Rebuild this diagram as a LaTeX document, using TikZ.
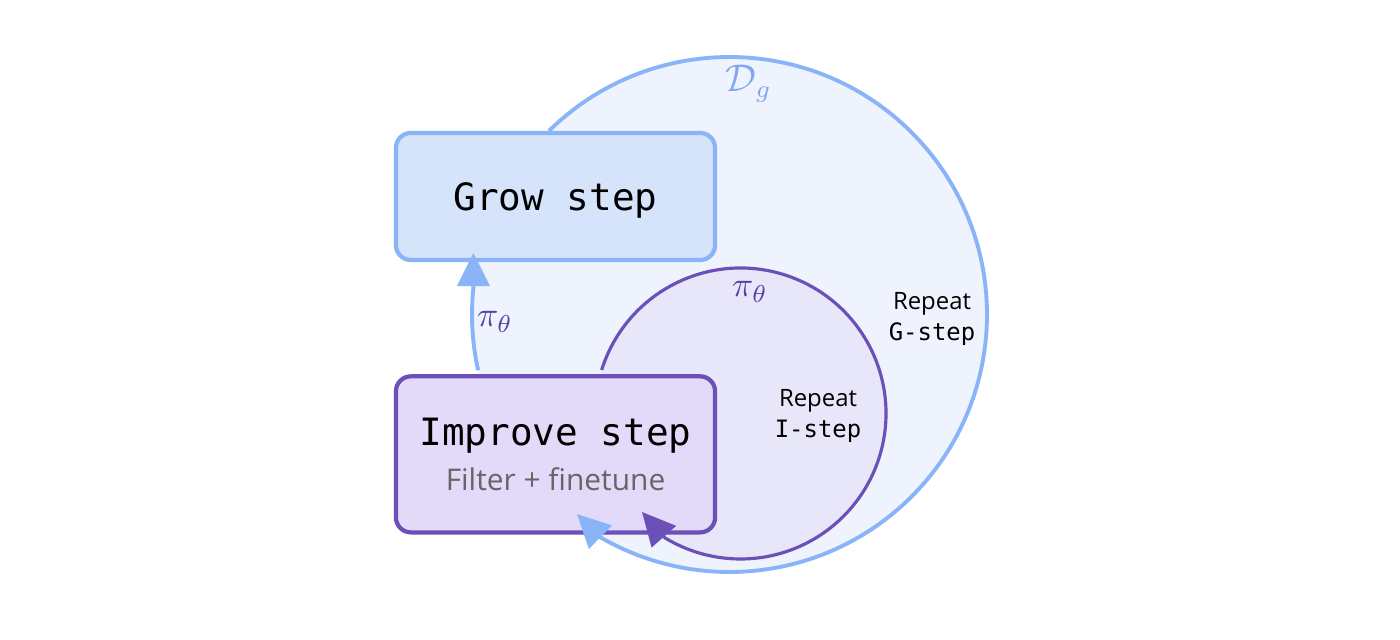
\documentclass[tikz,border=0pt]{standalone}
\usepackage{fontspec}
\usepackage{tikz}
\usetikzlibrary{positioning, arrows.meta, calc}

\definecolor{growline}{HTML}{8AB4F8}
\definecolor{growfill}{HTML}{D6E4FB}
\definecolor{outerfill}{HTML}{EEF3FD}
\definecolor{impline}{HTML}{6A50B7}
\definecolor{impfill}{HTML}{E3DAFA}
\definecolor{innerfill}{HTML}{E8E7F9}
\definecolor{pilabel}{HTML}{5B40AA}
\definecolor{dglabel}{HTML}{7FA7F0}
\definecolor{subgray}{HTML}{666666}

\newfontfamily\stepmono{DejaVu Sans Mono}
\newfontfamily\stepsans{Open Sans}

\begin{document}
\begin{tikzpicture}[
                x=0.01cm, y=-0.01cm,
                stepbox/.style={rectangle, rounded corners=0.15cm, line width=1.2pt, minimum width=3.19cm, font=\stepmono\fontsize{10.7}{12.8}\selectfont},
                growbox/.style={stepbox, draw=growline, fill=growfill, minimum height=1.27cm, text depth=0pt},
                impbox/.style={stepbox, draw=impline, fill=impfill, minimum height=1.56cm, align=center},
                loopedge/.style={line width=1.1pt, -{Triangle[length=0.33cm, width=0.32cm]}},
                repeatlabel/.style={align=center, font=\fontsize{6.8}{9}\selectfont},
                pilab/.style={text=pilabel, font=\fontsize{10}{12}\selectfont}
            ]
            \useasboundingbox (0,0) rectangle (1400,640);

            % Loops (background)
            \coordinate (oc) at (729.5,314.5);
            \coordinate (ic) at (740.5,413.5);
            \fill[outerfill] (oc) circle[radius=257.5];
            \fill[innerfill] (ic) circle[radius=145.5];

            % Nodes
            \node[growbox] (grow) at (555.5,196.5) {Grow step};
            \node[impbox, below=1.12cm of grow] (imp) {Improve step\\{\stepsans\fontsize{8.5}{10}\selectfont\color{subgray}Filter + finetune}};

            % Arrow tips
            \coordinate (tipL) at (473.4,253);
            \coordinate (tipO) at (577,514);
            \coordinate (tipI) at (642,512);

            % Edges
            \draw[loopedge, growline] ($(oc)+(167.5:257.5)$) arc[start angle=167.5, end angle=186, radius=257.5] -- (tipL);
            \draw[loopedge, growline] ($(oc)+(-134.5:257.5)$) arc[start angle=-134.5, end angle=120, radius=257.5] -- (tipO);
            \draw[loopedge, impline, line width=0.9pt] ($(ic)+(-162.6:145.5)$) arc[start angle=-162.6, end angle=121.4, radius=145.5] -- (tipI);

            % Labels
            \node[pilab] (piL) at (495,322) {$\pi_\theta$};
            \node[pilab] (piI) at (750,292) {$\pi_\theta$};
            \node[text=dglabel, font=\fontsize{10.5}{12.6}\selectfont] (dg) at (749,84) {$\mathcal{D}_g$};
            \node[repeatlabel] (repG) at (932,319) {{\stepsans Repeat}\\{\stepmono G-step}};
            \node[repeatlabel] (repI) at (818,416) {{\stepsans Repeat}\\{\stepmono I-step}};

        \end{tikzpicture}
\end{document}
